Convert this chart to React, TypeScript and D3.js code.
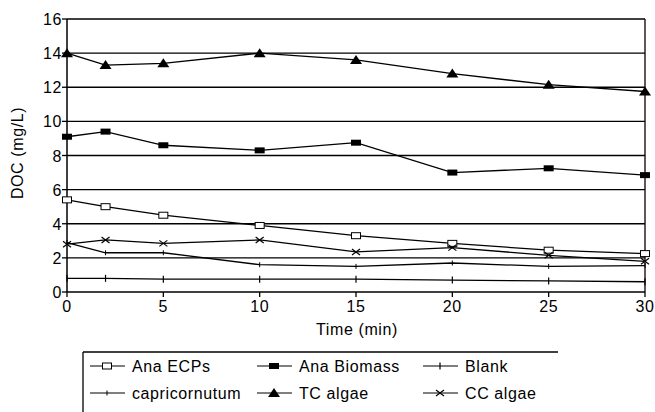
import React from "react";
import * as d3 from "d3";

const times = [0, 2, 5, 10, 15, 20, 25, 30];
const anaECPs = [5.4, 5.0, 4.5, 3.9, 3.3, 2.85, 2.45, 2.25];
const anaBiomass = [9.1, 9.4, 8.6, 8.3, 8.75, 7.0, 7.25, 6.85];
const blank = [0.8, 0.8, 0.75, 0.75, 0.75, 0.7, 0.65, 0.6];
const capricornutum = [2.9, 2.3, 2.3, 1.6, 1.5, 1.7, 1.5, 1.55];
const tcAlgae = [14.0, 13.3, 13.4, 14.0, 13.6, 12.8, 12.15, 11.75];
const ccAlgae = [2.8, 3.05, 2.85, 3.05, 2.35, 2.6, 2.15, 1.8];
const yTicks = [0, 2, 4, 6, 8, 10, 12, 14, 16];
const xTicks = [0, 5, 10, 15, 20, 25, 30];
const seriesNames = ["Ana ECPs", "Ana Biomass", "Blank", "capricornutum", "TC algae", "CC algae"];
const markerTypes = ["openSquare", "filledRect", "plus", "tick", "triangle", "cross"];

const FONT = "'Liberation Sans', Arial, sans-serif";
const FS = 16;
const LS = 0.6;

function Marker({ type, x, y }: { type: string; x: number; y: number }) {
  switch (type) {
    case "openSquare":
      return <rect x={x - 4.5} y={y - 3} width={9} height={6} fill="white" stroke="black" strokeWidth={1} />;
    case "filledRect":
      return <rect x={x - 5} y={y - 3} width={10} height={6} fill="black" />;
    case "plus":
      return <line x1={x} x2={x} y1={y - 3.5} y2={y + 3.5} stroke="black" strokeWidth={1.2} />;
    case "tick":
      return <line x1={x} x2={x} y1={y - 2.5} y2={y + 2.5} stroke="black" strokeWidth={1} />;
    case "triangle":
      return <path d={`M${x - 6},${y + 4}L${x + 6},${y + 4}L${x},${y - 5}Z`} fill="black" />;
    case "cross":
      return (
        <g stroke="black" strokeWidth={1.2}>
          <line x1={x - 4} x2={x + 4} y1={y - 3} y2={y + 3} />
          <line x1={x - 4} x2={x + 4} y1={y + 3} y2={y - 3} />
        </g>
      );
    default:
      return null;
  }
}

export default function App() {
  const W = 655, H = 412;
  const x = d3.scaleLinear().domain([0, 30]).range([67, 645]);
  const y = d3.scaleLinear().domain([0, 16]).range([292, 19]);
  const allSeries = [anaECPs, anaBiomass, blank, capricornutum, tcAlgae, ccAlgae];
  const line = d3.line<number>().x((_, i) => x(times[i])).y((d) => y(d));

  const legendCols = [90, 257, 423];
  const legendRows = [366, 393];

  return (
    <svg width={W} height={H} style={{ position: "absolute", left: 0, top: 0, background: "white" }}>
      <rect x={0} y={0} width={W} height={H} fill="white" />
      {yTicks.map((t) => (
        <line key={t} x1={x(0)} x2={x(30)} y1={y(t)} y2={y(t)} stroke="black" strokeWidth={1.3} />
      ))}
      <line x1={x(0)} x2={x(0)} y1={y(16)} y2={y(0)} stroke="black" strokeWidth={1.5} />
      <line x1={x(30)} x2={x(30)} y1={y(16)} y2={y(0)} stroke="black" strokeWidth={1.3} />
      {yTicks.map((t) => (
        <g key={t}>
          <line x1={x(0) - 5} x2={x(0)} y1={y(t)} y2={y(t)} stroke="black" strokeWidth={1.3} />
          <text x={x(0) - 5} y={y(t) + 6} textAnchor="end" fontFamily={FONT} fontSize={FS} letterSpacing={LS}>
            {t}
          </text>
        </g>
      ))}
      {xTicks.map((t) => (
        <g key={t}>
          <line x1={x(t)} x2={x(t)} y1={y(0)} y2={y(0) + 5} stroke="black" strokeWidth={1.3} />
          <text x={x(t)} y={312} textAnchor="middle" fontFamily={FONT} fontSize={FS} letterSpacing={LS}>
            {t}
          </text>
        </g>
      ))}
      <text x={357} y={335} textAnchor="middle" fontFamily={FONT} fontSize={FS} letterSpacing={LS}>
        Time (min)
      </text>
      <text
        transform={`translate(23,153) rotate(-90)`}
        textAnchor="middle"
        fontFamily={FONT}
        fontSize={FS}
        letterSpacing={LS}
      >
        DOC (mg/L)
      </text>
      {allSeries.map((s, si) => (
        <g key={si}>
          <path d={line(s) || ""} fill="none" stroke="black" strokeWidth={1.3} />
          {s.map((v, i) => (
            <Marker key={i} type={markerTypes[si]} x={x(times[i])} y={y(v)} />
          ))}
        </g>
      ))}
      <line x1={83} x2={558} y1={352} y2={352} stroke="black" strokeWidth={1.3} />
      <line x1={83} x2={83} y1={352} y2={412} stroke="black" strokeWidth={1.3} />
      {seriesNames.map((name, i) => {
        const col = i % 3;
        const row = Math.floor(i / 3);
        const lx = legendCols[col];
        const ly = legendRows[row];
        return (
          <g key={name}>
            <line x1={lx} x2={lx + 35} y1={ly} y2={ly} stroke="black" strokeWidth={1.2} />
            <Marker type={markerTypes[i]} x={lx + 17} y={ly} />
            <text x={lx + 42} y={ly + 6} fontFamily={FONT} fontSize={FS} letterSpacing={LS}>
              {name}
            </text>
          </g>
        );
      })}
    </svg>
  );
}
